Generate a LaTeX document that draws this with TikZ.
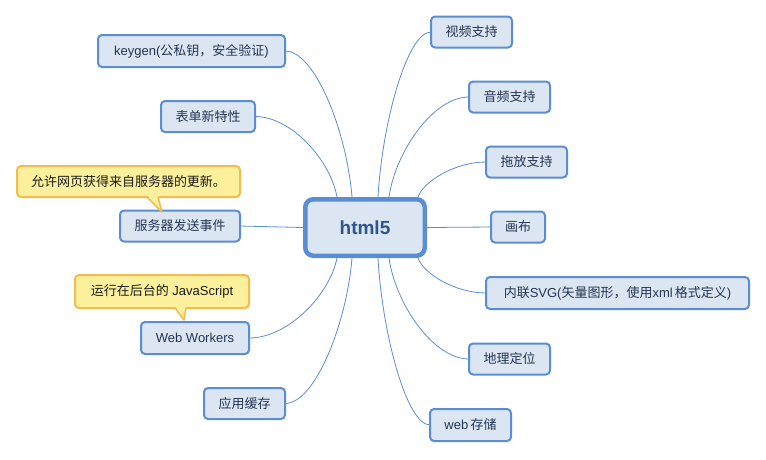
\documentclass[tikz,border=0pt]{standalone}
\usepackage{fontspec}
\setmainfont{Liberation Sans}
\newfontfamily\cjk{Noto Sans CJK SC}
\usetikzlibrary{calc,backgrounds}
\definecolor{nfill}{HTML}{DCE5F2}
\definecolor{nborder}{HTML}{5A8ED3}
\definecolor{ntext}{HTML}{233654}
\definecolor{ctext}{HTML}{2D5591}
\definecolor{yfill}{HTML}{FCF09C}
\definecolor{yborder}{HTML}{F3BC4D}
\definecolor{ytext}{HTML}{1A1A1A}
\newcommand\zh[1]{{\cjk #1}}
\newcommand\conn[2]{\draw[conn] let \p1=(#1), \p2=(#2) in (\p1) .. controls ({\x1+0.08*(\x2-\x1)},{\y1+0.45*(\y2-\y1)}) and ({\x2+0.45*(\x1-\x2)},\y2) .. (\p2);}
\newcommand\pointer[3]{%
  \fill[yfill] ($(#1.south west)+(#2,-2)$) -- ($(#1.south west)+(#3)$) -- ($(#1.south west)+(#2,0)+(11,-2)$) -- cycle;
  \draw[yborder, line width=1.5pt, line join=round] ($(#1.south west)+(#2,0)$) -- ($(#1.south west)+(#3)$) -- ($(#1.south west)+(#2,0)+(11,0)$);}
\begin{document}
\begin{tikzpicture}[x=1pt,y=-1pt,
  topic/.style={draw=nborder, fill=nfill, line width=2pt, rounded corners=4pt,
    text=ntext, font=\fontsize{13}{15}\selectfont, minimum height=31pt,
    minimum width=#1, inner sep=0pt, outer sep=0pt},
  center/.style={draw=nborder, fill=nfill, line width=4.5pt, rounded corners=8pt,
    text=ctext, font=\fontsize{19}{22}\selectfont\bfseries,
    minimum width=119.5pt, minimum height=56.5pt, inner sep=0pt},
  note/.style={draw=yborder, fill=yfill, line width=2pt, rounded corners=4pt,
    text=ytext, font=\fontsize{13}{15}\selectfont, minimum height=#1,
    inner sep=0pt, outer sep=0pt},
  conn/.style={draw=nborder, line width=0.8pt}]
\useasboundingbox (0,0) rectangle (766,459);

\node[center] (c) at (365,227.5) {html5};

% left
\node[topic=187pt, minimum height=32pt] (keygen) at (191.5,51) {keygen(\zh{公私钥，安全验证})};
\node[topic=94pt] (form) at (208,116.5) {\zh{表单新特性}};
\node[topic=120pt] (sse) at (180,226) {\zh{服务器发送事件}};
\node[topic=108pt, minimum height=32pt] (ww) at (195,338) {Web Workers};
\node[topic=81pt] (cache) at (244.5,403.5) {\zh{应用缓存}};

% right
\node[topic=81pt] (video) at (471.5,32) {\zh{视频支持}};
\node[topic=81pt] (audio) at (509.5,97) {\zh{音频支持}};
\node[topic=81pt] (drag) at (526.5,162) {\zh{拖放支持}};
\node[topic=54pt] (canvas) at (518,227) {\zh{画布}};
\node[topic=263pt, minimum height=32pt] (svg) at (617.5,293) {\zh{内联}SVG(\zh{矢量图形，使用}xml\,\zh{格式定义})};
\node[topic=81pt] (geo) at (509.5,359) {\zh{地理定位}};
\node[topic=81pt, minimum height=32pt] (web) at (470.5,425) {web\,\zh{存储}};

% callouts
\node[note=31pt, minimum width=223pt] (n1) at (128.5,181.5) {\zh{允许网页获得来自服务器的更新。}};
\pointer{n1}{130}{145,15}
\node[note=33pt, minimum width=174pt] (n2) at (162,291.5) {\zh{运行在后台的} JavaScript};
\pointer{n2}{100}{109,12}

% connector start points on the central topic
\coordinate (t1) at ($(c.north)+(-28,0)$);
\coordinate (t2) at ($(c.north)+(-13,0)$);
\coordinate (t3) at ($(c.north)+(13,0)$);
\coordinate (t4) at ($(c.north)+(24,0)$);
\coordinate (t5) at ($(c.north)+(53,0)$);
\coordinate (b1) at ($(c.south)+(-28,0)$);
\coordinate (b2) at ($(c.south)+(-13,0)$);
\coordinate (b3) at ($(c.south)+(13,0)$);
\coordinate (b4) at ($(c.south)+(24,0)$);
\coordinate (b5) at ($(c.south)+(53,0)$);

\begin{scope}[on background layer]
\conn{t1}{form.east}
\conn{t2}{keygen.east}
\conn{t3}{video.west}
\conn{t4}{audio.west}
\conn{t5}{drag.west}
\conn{b1}{ww.east}
\conn{b2}{cache.east}
\conn{b3}{web.west}
\conn{b4}{geo.west}
\conn{b5}{svg.west}
\draw[conn] (c.west) -- (sse.east);
\draw[conn] (c.east) -- (canvas.west);
\end{scope}
\end{tikzpicture}
\end{document}
